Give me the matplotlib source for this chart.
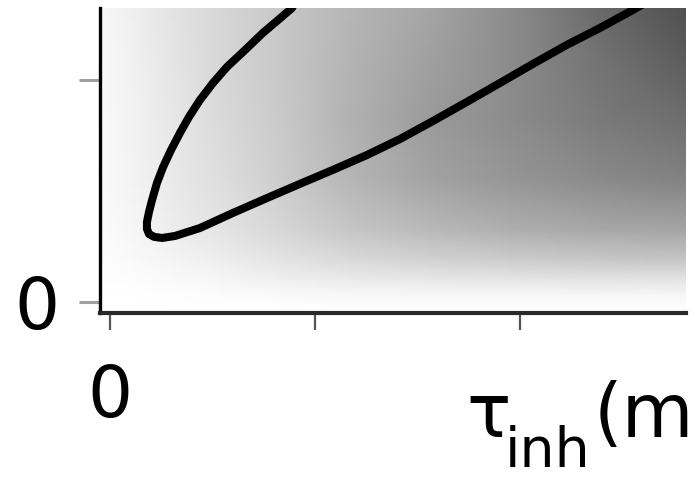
import numpy as np
import matplotlib
matplotlib.use("Agg")
import matplotlib.pyplot as plt

grid_x = [-0.49, 0.98, 2.93, 5.37, 8.29, 11.71, 15.61, 19.51, 23.90, 28.10]
grid_y = [1.324, 1.090, 0.820, 0.550, 0.324, 0.189, 0.099, 0.032, -0.050]
gray_levels = [
    [248, 240, 228, 215, 200, 182, 165, 140, 105, 80],
    [250, 242, 230, 215, 200, 180, 160, 140, 115, 92],
    [250, 243, 232, 218, 202, 178, 155, 140, 122, 110],
    [250, 244, 234, 222, 205, 182, 163, 150, 138, 130],
    [252, 247, 238, 228, 215, 198, 185, 175, 168, 165],
    [253, 250, 245, 238, 228, 218, 210, 205, 200, 198],
    [254, 253, 250, 246, 240, 235, 232, 230, 228, 228],
    [255, 255, 254, 252, 250, 248, 247, 246, 246, 246],
    [255, 255, 255, 255, 255, 255, 255, 255, 255, 255],
]

# boundary curve
curve_x = [9.07, 8.88, 8.20, 7.46, 6.59, 5.71, 5.02, 4.39, 3.85, 3.41, 2.98,
           2.59, 2.29, 2.05, 1.90, 1.80, 1.80, 1.90, 2.15, 2.54, 3.17, 4.39,
           6.00, 7.66, 9.27, 10.88, 12.54, 14.15, 15.76, 17.41, 19.02, 20.63,
           22.29, 23.90, 25.51, 26.10, 26.34]
curve_y = [1.360, 1.324, 1.270, 1.212, 1.135, 1.059, 0.986, 0.910, 0.833,
           0.761, 0.685, 0.608, 0.536, 0.459, 0.405, 0.360, 0.329, 0.306,
           0.293, 0.288, 0.297, 0.333, 0.401, 0.468, 0.532, 0.595, 0.662,
           0.734, 0.815, 0.901, 0.986, 1.072, 1.158, 1.234, 1.315, 1.347,
           1.360]

x_ticks = [0, 10, 20]
x_ticklabels = ["0", "", ""]
y_ticks = [0, 1]
y_ticklabels = ["0", ""]

W, H = 698, 480
fig = plt.figure(figsize=(W / 100, H / 100), dpi=100)
ax = fig.add_axes([100 / W, (H - 313) / H, (686 - 100) / W, (313 - 8) / H])

X, Y = np.meshgrid(grid_x, grid_y)
ax.pcolormesh(X, Y, np.array(gray_levels, float), shading="gouraud",
              cmap="gray", vmin=0, vmax=255, rasterized=True)
ax.plot(curve_x, curve_y, color="black", lw=5.8, solid_capstyle="butt",
        solid_joinstyle="round")

ax.set_xlim(-0.49, 28.10)
ax.set_ylim(-0.050, 1.324)

for s in ["top", "right"]:
    ax.spines[s].set_visible(False)
ax.spines["left"].set_linewidth(2.4)
ax.spines["left"].set_color("black")
ax.spines["bottom"].set_linewidth(3.0)
ax.spines["bottom"].set_color("#2a2a2a")

ax.set_xticks(x_ticks)
ax.set_xticklabels(x_ticklabels)
ax.set_yticks(y_ticks)
ax.set_yticklabels(y_ticklabels)
ax.tick_params(axis="x", direction="out", length=12, width=1.6, color="#555555",
               pad=24, labelsize=51)
ax.tick_params(axis="y", direction="out", length=15, width=2.2, color="#a0a0a0",
               pad=14, labelsize=51)

# x-axis label (only its visible part, "(m", as in the reference)
fig.text(466 / W, 1 - 437 / H, "\u03c4", fontsize=53, ha="left", va="baseline")
fig.text(505 / W, 1 - 467 / H, "inh", fontsize=40, ha="left", va="baseline")
fig.text(594 / W, 1 - 437 / H, "(m", fontsize=53, ha="left", va="baseline")

fig.savefig("out.png", dpi=100)
